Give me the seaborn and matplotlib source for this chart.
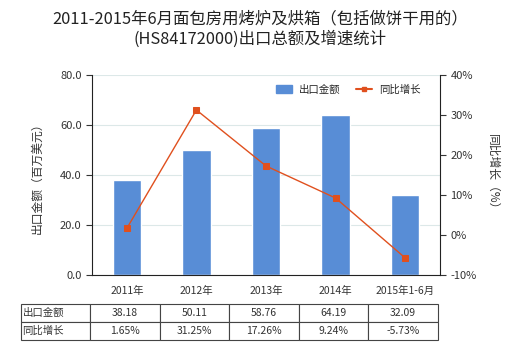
import matplotlib
matplotlib.use("Agg")
import matplotlib.pyplot as plt
import seaborn as sns
import pandas as pd
from matplotlib.lines import Line2D
from matplotlib.patches import Patch

categories = ["2011年", "2012年", "2013年", "2014年", "2015年1-6月"]
export_values = [38.18, 50.11, 58.76, 64.19, 32.09]
growth_values = [1.65, 31.25, 17.26, 9.24, -5.73]
export_labels = ["38.18", "50.11", "58.76", "64.19", "32.09"]
growth_labels = ["1.65%", "31.25%", "17.26%", "9.24%", "-5.73%"]
left_ticks = [0, 20, 40, 60, 80]
right_ticks = [-10, 0, 10, 20, 30, 40]

sns.set_style("white")
plt.rcParams['font.family'] = ['Noto Sans CJK SC', 'DejaVu Sans']

df = pd.DataFrame({"cat": categories, "export": export_values, "growth": growth_values})

fig = plt.figure(figsize=(5.2, 3.5), dpi=100)
ax = fig.add_axes([92/520, 1-275/350, 348/520, 200/350])

bar_color = "#588DD6"
line_color = "#E0501E"
text_color = "#333333"

sns.barplot(data=df, x="cat", y="export", ax=ax, color=bar_color, width=0.41,
            saturation=1, zorder=2)
ax.set_ylim(0, 80)
ax.set_yticks(left_ticks)
ax.set_yticklabels([f"{v:.1f}" for v in left_ticks], fontsize=8, color=text_color)
ax.yaxis.grid(True, color="#DCE8E8", linewidth=0.8, zorder=0)
ax.set_axisbelow(True)
ax.set_xlabel("")
ax.set_ylabel("出口金额（百万美元）", fontsize=8.5, color=text_color, labelpad=12)
ax.set_xticks(range(len(categories)))
ax.set_xticklabels(categories, fontsize=7.5, color=text_color)
ax.tick_params(axis="x", length=0, pad=8)
ax.tick_params(axis="y", length=4, width=0.8, color="#333333", direction="out", left=True)
for s in ["top", "right"]:
    ax.spines[s].set_visible(False)
ax.spines["left"].set_color("#222222")
ax.spines["bottom"].set_color("#222222")
ax.set_xlim(-0.5, 4.5)

ax2 = ax.twinx()
sns.pointplot(data=df, x="cat", y="growth", ax=ax2, color=line_color, markers="s",
              markersize=4.5, linewidth=1.0, zorder=3)
ax2.set_ylim(-10, 40)
ax2.set_yticks(right_ticks)
ax2.set_yticklabels([f"{v}%" for v in right_ticks], fontsize=8, color=text_color)
ax2.set_ylabel("同比增长（%）", fontsize=8.5, color=text_color, rotation=270, labelpad=16)
ax2.tick_params(axis="y", length=4, width=0.8, color="#333333", direction="out", right=True)
for s in ["top", "left", "bottom"]:
    ax2.spines[s].set_visible(False)
ax2.spines["right"].set_color("#222222")
ax2.set_xlim(-0.5, 4.5)
ax2.set_xlabel("")

handles = [Patch(facecolor=bar_color, edgecolor=bar_color),
           Line2D([0], [0], color=line_color, marker="s", markersize=3, linewidth=1.5)]
ax2.legend(handles, ["出口金额", "同比增长"], loc="upper right", bbox_to_anchor=(0.97, 1.0),
           ncol=2, frameon=False, fontsize=7.5, handlelength=1.6, columnspacing=1.5,
           handletextpad=0.6)

fig.suptitle("2011-2015年6月面包房用烤炉及烘箱（包括做饼干用的）\n(HS84172000)出口总额及增速统计",
             fontsize=11.8, y=0.97, color="#222222", linespacing=1.2)

cell_text = [export_labels, growth_labels]
rows = ["出口金额", "同比增长"]
full = [[rows[i]] + cell_text[i] for i in range(2)]
tbl = ax.table(cellText=full, cellLoc="center",
               bbox=[(21-92)/348, (275-340)/200, (438-21)/348, 36/200],
               colWidths=[69] + [69.6]*5)
tbl.auto_set_font_size(False)
tbl.set_fontsize(7.5)
for (r, c), cell in tbl.get_celld().items():
    cell.set_edgecolor("#444444")
    cell.set_linewidth(0.8)
    cell.get_text().set_color(text_color)
    if c == 0:
        cell.get_text().set_ha("left")
        cell.PAD = 0.02

fig.savefig("out.png", dpi=100)
